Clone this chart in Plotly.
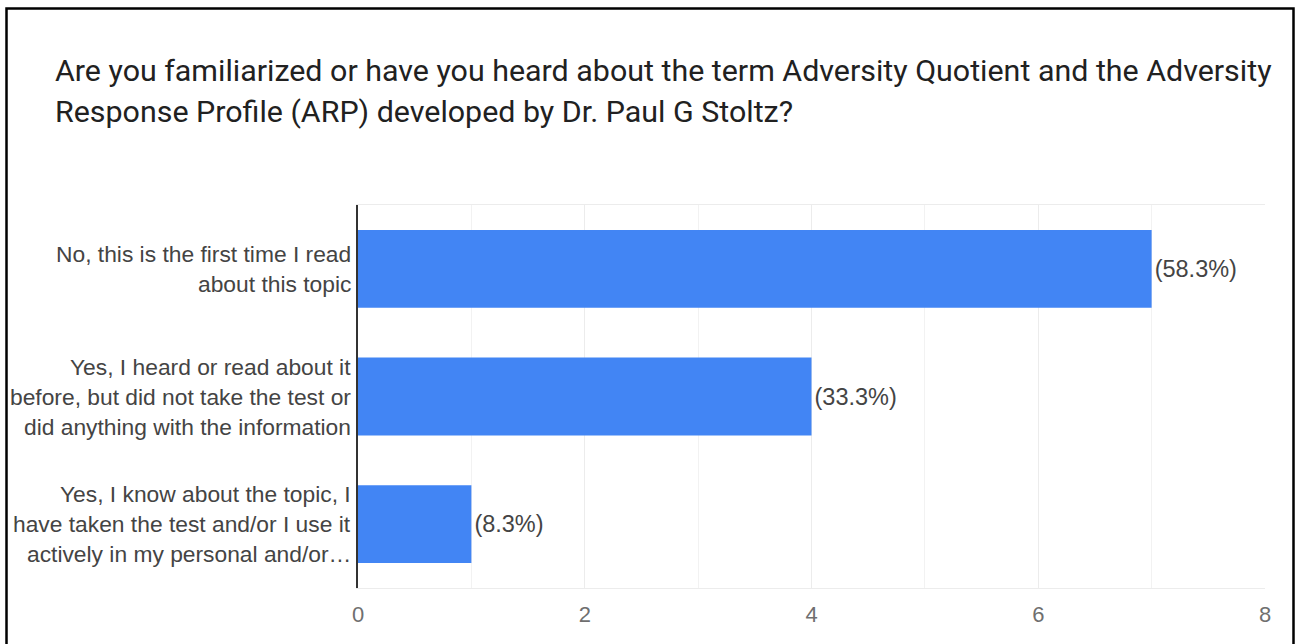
import plotly.graph_objects as go

title_lines = [
    "Are you familiarized or have you heard about the term Adversity Quotient and the Adversity",
    "Response Profile (ARP) developed by Dr. Paul G Stoltz?",
]
categories = [
    "No, this is the first time I read about this topic",
    "Yes, I heard or read about it before, but did not take the test or did anything with the information",
    "Yes, I know about the topic, I have taken the test and/or I use it actively in my personal and/or…",
]
category_lines = [
    ["No, this is the first time I read", "about this topic"],
    ["Yes, I heard or read about it", "before, but did not take the test or", "did anything with the information"],
    ["Yes, I know about the topic, I", "have taken the test and/or I use it", "actively in my personal and/or…"],
]
counts = [7, 4, 1]
pct_labels = ["(58.3%)", "(33.3%)", "(8.3%)"]
x_ticks = [0, 2, 4, 6, 8]

W, H = 1296, 644
L, R, T, B = 358, 31, 205, 56
plot_w = W - L - R
plot_h = H - T - B

fig = go.Figure()
fig.add_trace(go.Bar(
    y=categories, x=counts, orientation="h",
    marker=dict(color="#4285f4", line=dict(width=0)),
    width=0.61,
    text=pct_labels, textposition="outside",
    textfont=dict(family="Liberation Sans, Arial, sans-serif", size=23.5, color="#444444"),
    cliponaxis=False, hoverinfo="skip",
))

annotations = []
LINE_GAP = 30
for cat, lines in zip(categories, category_lines):
    n = len(lines)
    for i, ln in enumerate(lines):
        annotations.append(dict(
            xref="paper", yref="y", x=0, y=cat, xanchor="right", yanchor="middle",
            xshift=-5, yshift=((n - 1) / 2 - i) * LINE_GAP,
            text=ln, showarrow=False,
            font=dict(family="Liberation Sans, Arial, sans-serif", size=22.8, color="#444444"),
        ))

TITLE_GAP = 41
for i, ln in enumerate(title_lines):
    annotations.append(dict(
        xref="paper", yref="paper", x=0, y=1, xanchor="left", yanchor="middle",
        xshift=53 - L, yshift=(T - 70) - i * TITLE_GAP,
        text=ln, showarrow=False,
        font=dict(family="Roboto, sans-serif", size=30.4, color="#212121"),
    ))

fig.update_layout(
    width=W, height=H,
    margin=dict(l=L, r=R, t=T, b=B, pad=0),
    paper_bgcolor="white", plot_bgcolor="white",
    showlegend=False,
    annotations=annotations,
    shapes=[dict(
        type="rect", xref="paper", yref="paper",
        x0=(6.5 - L) / plot_w, x1=(1293.5 - L) / plot_w,
        y0=-0.4, y1=(H - B - 8.5) / plot_h,
        line=dict(color="black", width=2.5), fillcolor="rgba(0,0,0,0)", layer="above",
    )],
    xaxis=dict(
        range=[0, 8], tickvals=x_ticks, ticktext=[str(v) for v in x_ticks],
        showgrid=True, gridcolor="#ececec", gridwidth=1,
        minor=dict(dtick=1, showgrid=True, gridcolor="#f2f2f2", gridwidth=1),
        showline=True, linecolor="#ececec", linewidth=1, mirror=True,
        zeroline=False, ticks="", ticklabelstandoff=7,
        tickfont=dict(family="Liberation Sans, Arial, sans-serif", size=22, color="#6f6f6f"),
    ),
    yaxis=dict(
        categoryorder="array", categoryarray=categories, autorange="reversed",
        showticklabels=False, showgrid=False, zeroline=False,
        showline=True, linecolor="#333333", linewidth=1.5, ticks="",
    ),
)

fig.write_html("out.html")
